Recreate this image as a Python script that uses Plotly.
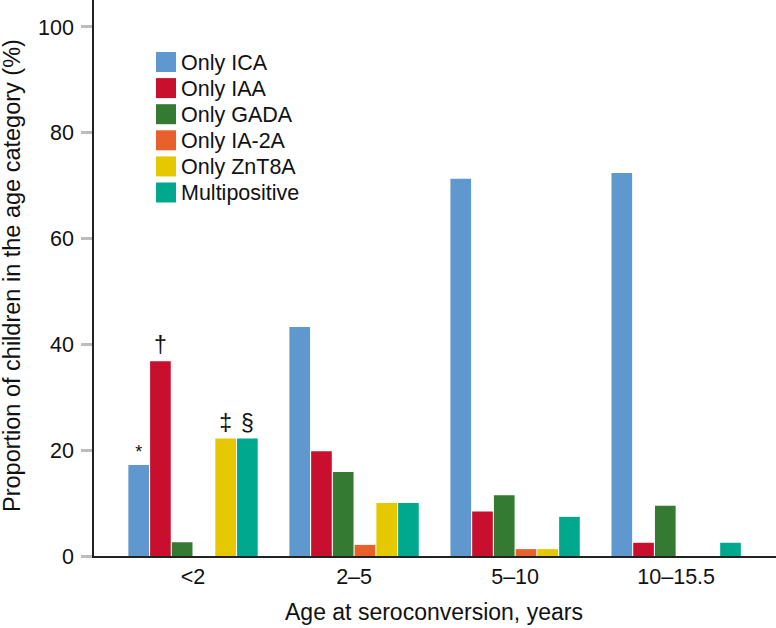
import plotly.graph_objects as go

categories = ["<2", "2–5", "5–10", "10–15.5"]
series_names = ["Only ICA", "Only IAA", "Only GADA", "Only IA-2A", "Only ZnT8A", "Multipositive"]
only_ica = [17.2, 43.3, 71.3, 72.4]
only_iaa = [36.8, 19.8, 8.4, 2.5]
only_gada = [2.6, 15.9, 11.5, 9.5]
only_ia2a = [0, 2.1, 1.3, 0]
only_znt8a = [22.2, 10.0, 1.3, 0]
multipositive = [22.2, 10.0, 7.4, 2.5]
marks_ica = ["*", "", "", ""]
marks_iaa = ["†", "", "", ""]
marks_znt8a = ["‡", "", "", ""]
marks_multi = ["§", "", "", ""]
blank = ["", "", "", ""]
y_ticks = [0, 20, 40, 60, 80, 100]

values = [only_ica, only_iaa, only_gada, only_ia2a, only_znt8a, multipositive]
marks = [marks_ica, marks_iaa, blank, blank, marks_znt8a, marks_multi]
colors = ["#5F97CF", "#C8102E", "#357A32", "#E8612C", "#E5C800", "#00A88E"]
mark_sizes = [18, 23, 20, 20, 23, 23]

FONT = "Liberation Sans, Arial, Helvetica, sans-serif"
W, H = 776, 628
ml, mr, mt, mb = 94, 0, 0, 72
pw, ph = W - ml - mr, H - mt - mb


def px(x):
    return (x - ml) / pw


def py(y):
    return 1 - (y - mt) / ph


fig = go.Figure()
for name, vals, mk, col, ms in zip(series_names, values, marks, colors, mark_sizes):
    fig.add_trace(go.Bar(
        x=categories, y=vals, name=name,
        marker=dict(color=col, line=dict(width=0)),
        text=mk, textposition="outside", cliponaxis=False,
        textfont=dict(family=FONT, size=ms, color="#111"),
        showlegend=False, hoverinfo="skip",
    ))

# manual legend (swatches + labels)
leg_x0, leg_y0, row_h, sw = 156, 52, 26.1, 20
for i, (name, col) in enumerate(zip(series_names, colors)):
    cy = leg_y0 + 10 + i * row_h
    fig.add_shape(type="rect", xref="paper", yref="paper",
                  x0=px(leg_x0), x1=px(leg_x0 + sw),
                  y0=py(cy + sw / 2), y1=py(cy - sw / 2),
                  fillcolor=col, line=dict(width=0))
    fig.add_annotation(xref="paper", yref="paper", x=px(leg_x0 + sw + 3),
                       y=py(cy + 1), text=name, showarrow=False,
                       xanchor="left", yanchor="middle",
                       font=dict(family=FONT, size=21.5, color="#111"))

# axis titles
fig.add_annotation(xref="paper", yref="paper", x=px(434), y=py(612),
                   text="Age at seroconversion, years", showarrow=False,
                   xanchor="center", yanchor="middle",
                   font=dict(family=FONT, size=23, color="#111"))
fig.add_annotation(xref="paper", yref="paper", x=px(12), y=py(276),
                   text="Proportion of children in the age category (%)", showarrow=False,
                   textangle=-90, xanchor="center", yanchor="middle",
                   font=dict(family=FONT, size=23.5, color="#111"))

fig.update_layout(
    width=W, height=H, margin=dict(l=ml, r=mr, t=mt, b=mb, autoexpand=False),
    paper_bgcolor="white", plot_bgcolor="white",
    barmode="group", bargap=0.19, bargroupgap=0.05,
    font=dict(family=FONT, color="#111"),
)
fig.update_xaxes(
    range=[-0.615, 3.62], showline=True, linecolor="#222", linewidth=1.5,
    ticks="", showgrid=False, zeroline=False, automargin=False,
    tickfont=dict(size=21.5, family=FONT),
)
fig.update_yaxes(
    range=[0, 105.1], tickvals=y_ticks, showline=True, linecolor="#222", linewidth=1.5,
    ticks="outside", ticklen=11, tickwidth=3, tickcolor="#BDBDBD",
    showgrid=False, zeroline=False, automargin=False,
    tickfont=dict(size=21.5, family=FONT), ticklabelstandoff=3,
)
fig.write_html(
    "out.html",
    config={"displayModeBar": False},
    post_script="document.body.style.margin='0';document.body.style.overflow='hidden';",
)
